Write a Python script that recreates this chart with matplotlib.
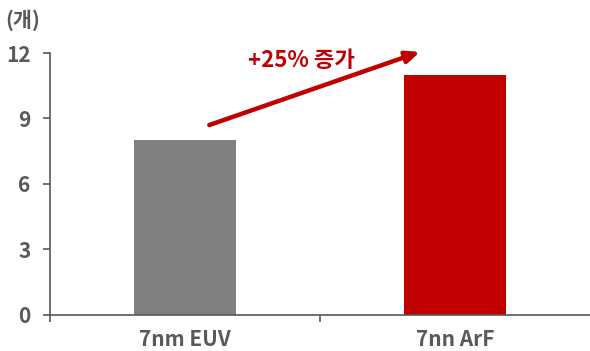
import matplotlib
matplotlib.use("Agg")
import matplotlib.pyplot as plt
import numpy as np

plt.rcParams['font.family'] = ['Noto Sans CJK KR', 'DejaVu Sans']

categories = ['7nm EUV', '7nn ArF']
values = [8, 11]
colors = ['#808080', '#C00000']
yticks = [0, 3, 6, 9, 12]

fig = plt.figure(figsize=(5.9, 3.51), dpi=100)
ax = fig.add_axes([0.0847, 0.1026, 0.9153, 0.7464])

x = np.arange(len(categories))
ax.bar(x, values, width=0.38, color=colors, zorder=2)

ax.set_xlim(-0.5, 1.5)
ax.set_ylim(0, 12)
ax.set_yticks(yticks)
ax.set_yticklabels([str(v) for v in yticks])
ax.set_xticks(x)
ax.set_xticklabels(categories)
# category boundary ticks (right edge sits on the figure border)
ax.set_xticks([-0.5, 0.5], minor=True)

axc = '#595959'
for s in ['top', 'right']:
    ax.spines[s].set_visible(False)
for s in ['left', 'bottom']:
    ax.spines[s].set_color(axc)
    ax.spines[s].set_linewidth(1.2)
    ax.spines[s].set_clip_on(False)

ax.tick_params(axis='y', direction='out', length=5, width=1.2, color=axc,
               labelcolor=axc, labelsize=15, pad=9)
ax.tick_params(axis='x', which='major', length=0, labelcolor=axc,
               labelsize=15, pad=10)
ax.tick_params(axis='x', which='minor', direction='out', length=5, width=1.2,
               color=axc)
for lab in ax.get_yticklabels() + ax.get_xticklabels():
    lab.set_fontweight('bold')

ax.text(-0.082, 1.126, '(개)', transform=ax.transAxes, fontsize=15,
        fontweight='bold', color=axc, ha='left', va='center')

ax.annotate('', xy=(0.87, 12.05), xytext=(0.09, 8.7),
            arrowprops=dict(arrowstyle='-|>,head_length=0.8,head_width=0.35',
                            color='#C00000', lw=3.2, shrinkA=0, shrinkB=0),
            annotation_clip=False, zorder=3)
ax.text(0.43, 11.65, '+25% 증가', fontsize=16, fontweight='bold',
        color='#C00000', ha='center', va='center')

fig.savefig('out.png', dpi=100)
